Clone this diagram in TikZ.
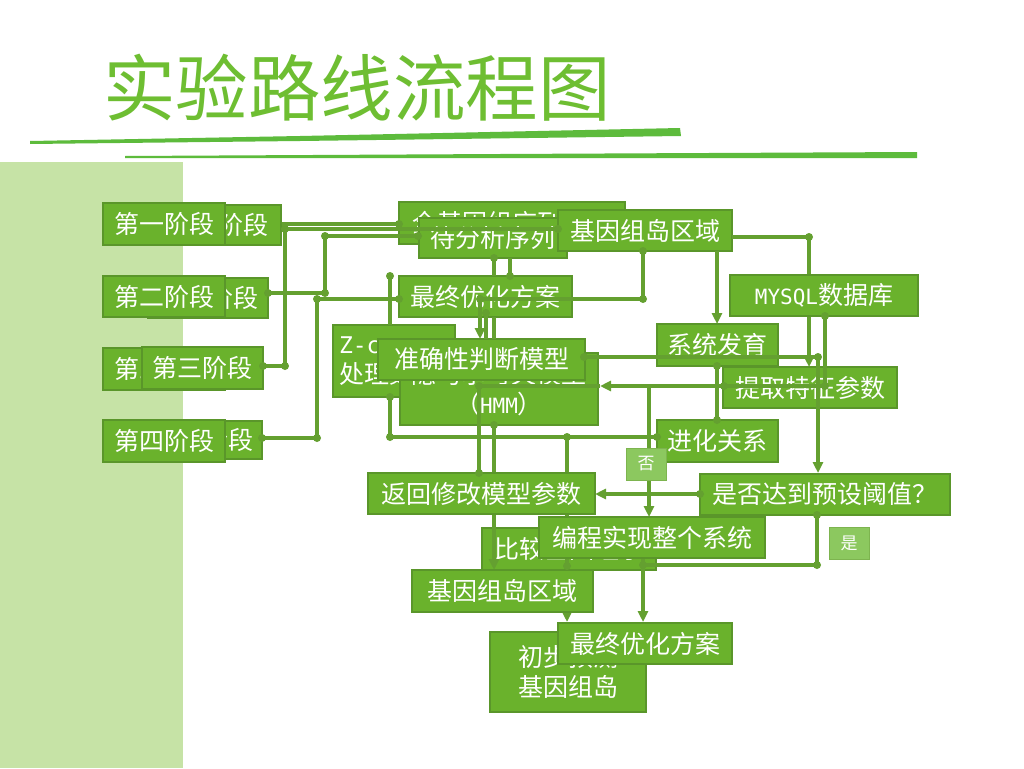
\documentclass[tikz,border=0pt]{standalone}
\usepackage{fontspec}
\setmainfont{Noto Sans CJK SC}
\newfontfamily\monof{DejaVu Sans Mono}
\usetikzlibrary{arrows.meta}
\definecolor{boxfill}{HTML}{6AB22C}
\definecolor{boxline}{HTML}{5A962A}
\definecolor{conncol}{HTML}{64A030}
\definecolor{lightfill}{HTML}{8CC85F}
\definecolor{lightline}{HTML}{7DB44F}
\definecolor{titlecol}{HTML}{6EBE32}
\definecolor{bandcol}{HTML}{C6E3A6}
\definecolor{brushcol}{HTML}{5DBB3C}
\begin{document}
\begin{tikzpicture}[x=1pt,y=-1pt,
  box/.style={draw=boxline, fill=boxfill, line width=1.6pt, text=white,
    font=\fontsize{25}{30}\selectfont, inner sep=0pt, anchor=center},
  tag/.style={draw=lightline, fill=lightfill, line width=1pt, text=white,
    font=\fontsize{17}{20}\selectfont, inner sep=0pt, minimum width=40pt, minimum height=32pt},
  conn/.style={draw=conncol, line width=3.2pt},
  arr/.style={conn, -{Triangle[length=11pt,width=10pt]}},
  jdot/.style={fill=conncol, circle, inner sep=0pt, minimum size=8pt}
]
\useasboundingbox (0,0) rectangle (1024,768);
\fill[white] (0,0) rectangle (1024,768);
% left band
\fill[bandcol] (0,162) rectangle (183,768);
% title
\node[anchor=west, inner sep=0pt, text=titlecol, font=\fontsize{72.5}{80}\selectfont] (title) at (103,88) {实验路线流程图};
% brush strokes
\fill[brushcol] (30,141) -- (300,136) -- (680,128) -- (681,136) -- (300,141) -- (30,144) -- cycle;
\fill[brushcol] (125,156) -- (500,154) -- (917,152) -- (917,158) -- (500,158) -- (125,158) -- cycle;

% ---- left stage boxes
\node[box, minimum width=126pt, minimum height=40pt] (s1b) at (218,225) {第一阶段};
\node[box, minimum width=122pt, minimum height=42pt] (s1) at (164,224) {第一阶段};
\node[box, minimum width=120pt, minimum height=40pt] (s2b) at (208,298) {第二阶段};
\node[box, minimum width=122pt, minimum height=41pt] (s2) at (164,296.5) {第二阶段};
\node[box, minimum width=122pt, minimum height=42pt] (s3b) at (164,369) {第三阶段};
\node[box, minimum width=121pt, minimum height=42pt] (s3) at (202.5,368) {第三阶段};
\node[box, minimum width=118pt, minimum height=38pt] (s4b) at (203,440) {第四阶段};
\node[box, minimum width=122pt, minimum height=42pt] (s4) at (164,441) {第四阶段};

% ---- middle boxes
\node[box, minimum width=226pt, minimum height=42pt] (qj) at (512,223) {全基因组序列数据};
\node[box, minimum width=148pt, minimum height=40pt] (dfx) at (493,238) {待分析序列};
\node[box, minimum width=174pt, minimum height=41pt] (jy1) at (645,230.5) {基因组岛区域};
\node[box, minimum width=173pt, minimum height=41pt] (zz1) at (485.5,296.5) {最终优化方案};
\node[box, minimum width=122pt, minimum height=72pt, align=left, text width=110pt] (zc) at (394,361) {{\monof\fontsize{23}{30}\selectfont Z-curve}\\处理数据};
\node[box, minimum width=198pt, minimum height=72pt, align=center] (hmm) at (499,389) {隐马尔可夫模型\\（{\monof\fontsize{21}{30}\selectfont HMM}）};
\node[box, minimum width=207pt, minimum height=41pt] (zq) at (481.5,359.5) {准确性判断模型};

% ---- right boxes
\node[box, minimum width=121pt, minimum height=42pt] (xt) at (717.5,345) {系统发育};
\node[box, minimum width=174pt, minimum height=41pt] (tq) at (810,387.5) {提取特征参数};
\node[box, minimum width=121pt, minimum height=42pt] (jh) at (717.5,441) {进化关系};
\node[box, minimum width=250pt, minimum height=41pt] (sf) at (825,494.5) {是否达到预设阈值？};
\node[tag] (shi) at (849,543) {是};

% ---- lower boxes
\node[box, minimum width=174pt, minimum height=42pt] (bj) at (569,549) {比较基因组学};
\node[box, minimum width=156pt, minimum height=80pt, align=center] (cb) at (568,672) {初步预测\\基因组岛};
\node[box, minimum width=174pt, minimum height=41pt] (zz2) at (645,643.5) {最终优化方案};

% ---- connector points
\coordinate (a1) at (399,224);
\coordinate (b1) at (263,366); \coordinate (b2) at (285,366); \coordinate (b3) at (285,229); \coordinate (b4) at (558,229);
\coordinate (c1) at (268,293); \coordinate (c2) at (325,293); \coordinate (c3) at (325,236); \coordinate (c4) at (418,236);
\coordinate (d1) at (262,438); \coordinate (d2) at (317,438); \coordinate (d3) at (317,299); \coordinate (d4) at (399,299);
\coordinate (e1) at (494,258); \coordinate (e2) at (494,276); \coordinate (e3) at (510,258); \coordinate (e4) at (510,276);
\coordinate (f1) at (643,251); \coordinate (f2) at (643,299); \coordinate (f3) at (480,299); \coordinate (f4) at (480,339);
\coordinate (g1) at (486,313); \coordinate (g2) at (486,339); \coordinate (g3) at (494,317); \coordinate (g4) at (494,339);
\coordinate (h1) at (825,316); \coordinate (h2) at (825,386); \coordinate (h3) at (600,386); \coordinate (h4) at (479,386); \coordinate (h5) at (724,386);
\coordinate (i1) at (649,386); \coordinate (i2) at (649,517);
\coordinate (j1) at (584,357); \coordinate (j2) at (818,357); \coordinate (j3) at (818,473);
\coordinate (k1) at (732,237); \coordinate (k2) at (809,237); \coordinate (k3) at (809,367);
\coordinate (l1) at (717,251); \coordinate (l2) at (717,324);
\coordinate (m1) at (717,366); \coordinate (m2) at (717,420);
\coordinate (n1) at (390,276); \coordinate (n2) at (390,325);
\coordinate (o1) at (390,397); \coordinate (o2) at (390,437); \coordinate (o3) at (567,437); \coordinate (o4) at (657,437);
\coordinate (p1) at (567,566); \coordinate (p2) at (567,622);
\coordinate (q1) at (479,473);
\coordinate (r1) at (494,425); \coordinate (r2) at (494,570);
\coordinate (t1) at (700,494); \coordinate (t2) at (595,494);
\coordinate (u1) at (817,515); \coordinate (u2) at (817,565); \coordinate (u3) at (643,565); \coordinate (u4) at (643,622); \coordinate (u5) at (643,558);

% ---- connectors
\draw[conn] (s1b.east |- a1) -- (a1);
\draw[conn] (b1) -- (b2) -- (b3) -- (b4);
\draw[conn] (c1) -- (c2) -- (c3) -- (c4);
\draw[conn] (d1) -- (d2) -- (d3) -- (d4);
\draw[conn] (e1) -- (e2);
\draw[conn] (e3) -- (e4);
\draw[arr] (f1) -- (f2) -- (f3) -- (f4);
\draw[conn] (g1) -- (g2);
\draw[conn] (g3) -- (g4);
\draw[arr] (h1) -- (h2) -- (h3);
\draw[conn] (h3) -- (h4);
\draw[arr] (i1) -- (i2);
\draw[arr] (j1) -- (j2) -- (j3);
\draw[arr] (k1) -- (k2) -- (k3);
\draw[arr] (l1) -- (l2);
\draw[conn] (m1) -- (m2);
\draw[conn] (n1) -- (n2);
\draw[conn] (o1) -- (o2) -- (o4);
\draw[arr] (o3) -- (p2);
\draw[conn] (h4) -- (q1);
\draw[arr] (r1) -- (r2);
\draw[arr] (t1) -- (t2);
\draw[arr] (u1) -- (u2) -- (u3) -- (u4);
\draw[conn] (u5) -- (u3);

% ---- boxes that cover connectors
\node[box, minimum width=188pt, minimum height=41pt] (mysql) at (824,295.5) {{\monof\fontsize{21}{30}\selectfont MYSQL}数据库};
\node[tag] (fou) at (646,464) {否};
\node[box, minimum width=227pt, minimum height=41pt] (fh) at (481.5,493.5) {返回修改模型参数};
\node[box, minimum width=226pt, minimum height=41pt] (bc) at (652,537.5) {编程实现整个系统};
\node[box, minimum width=181pt, minimum height=42pt] (jy2) at (502.5,591) {基因组岛区域};

% ---- junction dots
\foreach \p in {a1,b1,b2,b3,b4,c1,c2,c3,c4,d1,d2,d3,d4,e1,e4,f1,f2,f3,g1,h1,h2,h4,h5,j1,j2,k2,m1,m2,n1,o1,o2,o3,o4,p1,q1,r1,t1,u1,u2,u3}
  \node[jdot] at (\p) {};
\end{tikzpicture}
\end{document}
